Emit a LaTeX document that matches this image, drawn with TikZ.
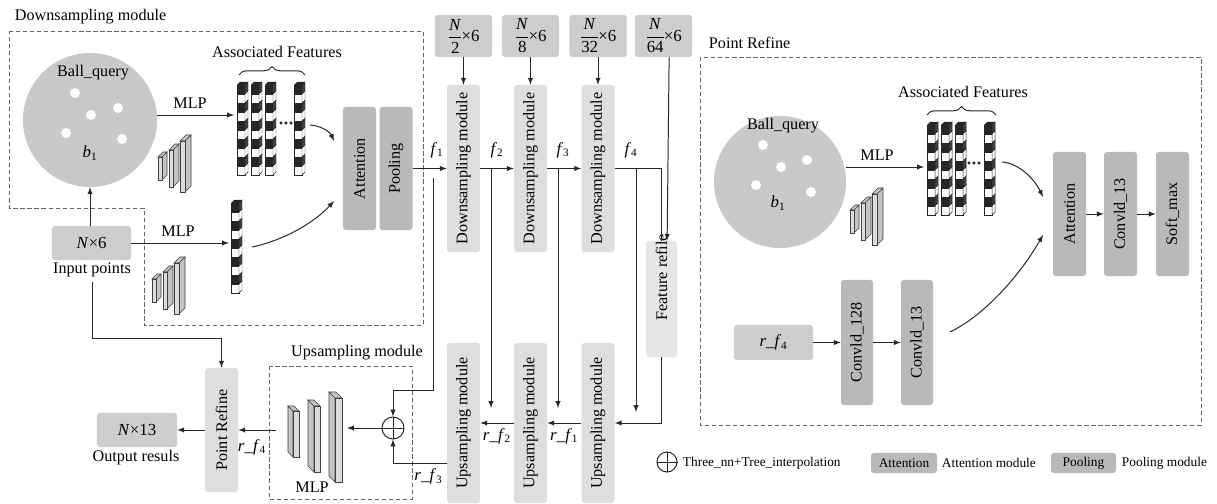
\documentclass[tikz,border=0pt]{standalone}
\usepackage{graphicx}
\usepackage{fontspec}
\setmainfont{Liberation Serif}
\usetikzlibrary{calc,arrows,decorations.pathreplacing}
\tikzset{>=latex}

\definecolor{ballgray}{HTML}{C9C9C9}
\definecolor{boxgray}{HTML}{CDCDCD}
\definecolor{modgray}{HTML}{DEDEDE}
\definecolor{attgray}{HTML}{B9B9B9}
\definecolor{slabgray}{HTML}{C4C4C4}

\tikzset{
  gbox/.style={fill=boxgray, rounded corners=2pt, inner sep=0pt},
  mbox/.style={fill=modgray, rounded corners=2pt, inner sep=0pt, minimum width=0.825cm},
  abox/.style={fill=attgray, rounded corners=2pt, inner sep=0pt, minimum width=0.825cm},
  dbox/.style={draw=black!60, dash pattern=on 3pt off 2pt, line width=0.5pt},
  conn/.style={line width=0.7pt, draw=black!85},
  wdot/.style={circle, fill=white, inner sep=0pt, minimum size=0.25cm},
  osum/.style={circle, draw=black!85, line width=0.7pt, inner sep=0pt, minimum size=0.55cm},
  slab/.style={draw=black!75, line width=0.4pt, fill=slabgray},
  cell/.style={draw=black!85, line width=0.35pt},
}

% italic labels in the text font
\newcommand{\vf}[1]{\textit{f}\textsubscript{#1}}
\newcommand{\rfm}[1]{\textit{r}\_\textit{f}\textsubscript{#1}}
\newcommand{\nfrac}[1]{$\displaystyle\frac{\mbox{\textit{N}}}{\mbox{#1}}$\kern-1pt×6}

% one column of associated features
\newcommand{\featcol}[2]{%
  \fill[black!85] (#1,#2) -- ++(3,-3) -- ++(8,0) -- ++(-3,3) -- cycle;
  \foreach \i in {0,2,4,6,8}{
    \filldraw[cell, fill=black!85] (#1,#2+9*\i) rectangle ++(8,9);
    \filldraw[cell, fill=black!75] (#1+8,#2+9*\i) -- ++(3,-3) -- ++(0,9) -- ++(-3,3) -- cycle;
  }
  \foreach \i in {1,3,5,7,9}{
    \filldraw[cell, fill=white] (#1,#2+9*\i) rectangle ++(8,9);
    \filldraw[cell, fill=white] (#1+8,#2+9*\i) -- ++(3,-3) -- ++(0,9) -- ++(-3,3) -- cycle;
  }
}
% layer slabs
\newcommand{\slabR}[5]{%
  \filldraw[slab] (#1+#4,#2) -- ++(#5,-#5) -- (#1+#4+#5,#3-#5) -- (#1+#4,#3) -- cycle;
  \filldraw[slab] (#1,#2) -- ++(#5,-#5) -- ++(#4,0) -- (#1+#4,#2) -- cycle;
  \filldraw[slab, fill=slabgray!60] (#1,#2) rectangle (#1+#4,#3);
}
\newcommand{\slabL}[5]{%
  \filldraw[slab] (#1,#2) -- ++(-#5,-#5) -- (#1-#5,#3-#5) -- (#1,#3) -- cycle;
  \filldraw[slab] (#1,#2) -- ++(-#5,-#5) -- ++(#4,0) -- (#1+#4,#2) -- cycle;
  \filldraw[slab, fill=slabgray!60] (#1,#2) rectangle (#1+#4,#3);
}
\newcommand{\mlpicon}[2]{%
  \slabR{#1}{#2+22}{#2+45}{4}{5}
  \slabR{#1+11}{#2+15}{#2+52}{4}{6}
  \slabR{#1+22}{#2+6}{#2+57}{5}{6}
}

\begin{document}
\begin{tikzpicture}[x=0.025cm, y=-0.025cm, font=\fontsize{11.5pt}{13pt}\selectfont]
  \useasboundingbox (0,0) rectangle (1217,504);

  % downsampling module
  \draw[dbox] (9,31) -- (423,31) -- (423,325) -- (144,325) -- (144,208) -- (9,208) -- cycle;
  \node[anchor=west] (titleD) at (10,17) {Downsampling module};
  \node[circle, fill=ballgray, inner sep=0pt, minimum size=3.35cm] (ballA) at (90,120) {};
  \node (bqA) at (93,73) {Ball\_query};
  \node (bA) at (90,153) {\large\textit{b}\textsubscript{1}};
  \foreach \x/\y [count=\k] in {75/93, 91/115, 118/108, 66/133, 122/139}
    \node[wdot] (dA\k) at (\x,\y) {};
  \node[gbox, minimum width=1.975cm, minimum height=0.85cm] (inA) at (91.5,243) {\large\textit{N}×6};
  \node (inlab) at (92,270) {Input points};

  \foreach \x in {237,251,265,294} \featcol{\x}{85}
  \foreach \x in {281,286,291} \fill[black!85] (\x,123) circle (0.9pt);
  \draw[conn, decorate, decoration={brace, amplitude=6pt}] (239,75) -- (305,75);
  \node (afA) at (277,52) {Associated Features};
  \featcol{231}{203}
  \mlpicon{158}{135}
  \mlpicon{152}{257}

  \node[abox, minimum height=3.075cm] (attA) at (359.5,168.5) {\rotatebox{90}{Attention}};
  \node[abox, minimum height=3.075cm] (poolA) at (396,168.5) {\rotatebox{90}{Pooling}};

  \coordinate (colA) at (234,115);
  \coordinate (colA2) at (229,243);
  \draw[conn,->] (inA.north -| ballA) -- (ballA.south);
  \draw[conn,->] (ballA.east |- colA) -- (colA);
  \node (mlpA1) at (190,103) {MLP};
  \draw[conn,->] (inA) -- (colA2);
  \node (mlpA2) at (178,231) {MLP};
  \draw[conn,->] (310,125) .. controls (322,126) and (330,132) .. (334,141);
  \draw[conn,->] (252,247) .. controls (285,240) and (315,222) .. (334,201);

  % backbone
  \foreach \n/\d/\x in {n2/2/463.5, n8/8/530.5, n32/32/598, n64/64/663.5}
    \node[gbox, minimum width=1.425cm, minimum height=1.05cm] (\n) at (\x,36) {\large\nfrac{\d}};
  \foreach \k/\x in {1/463.5, 2/530.5, 3/598}{
    \node[mbox, minimum height=4.175cm] (down\k) at (\x,168.5) {\rotatebox{90}{Downsampling module}};
    \node[mbox, minimum height=4cm] (up\k) at (\x,423) {\rotatebox{90}{Upsampling module}};
  }
  \node[mbox, fill=modgray!75, minimum width=0.775cm, minimum height=2.9cm] (feat) at (661.5,299)
    {\rotatebox{90}{\makebox[0pt]{\hspace*{31pt}Feature refile}}};

  \foreach \a/\b in {n2/down1, n8/down2, n32/down3, poolA/down1, down1/down2, down2/down3}
    \draw[conn,->] (\a) -- (\b);
  \foreach \k/\x in {1/437, 2/497, 3/563, 4/631}
    \node (lf\k) at (\x,150) {\large\vf{\k}};
  \draw[conn] (down3) -| (feat.north);
  \draw[conn,->] ([xshift=4pt]n64.south) -- ([xshift=4pt]feat.north);

  \coordinate (br1) at (433,178);
  \coordinate (br2) at (491,168);
  \coordinate (br3) at (558,168);
  \coordinate (br4) at (636,168);
  \draw[conn,->] (br2) -- ++(0,240);
  \draw[conn,->] (br3) -- ++(0,240);
  \draw[conn,->] (br4) -- ++(0,244);

  \draw[conn,->] (feat) |- (up3);
  \draw[conn,->] (up3) -- (up2) node[midway, below] {\large\rfm{1}};
  \draw[conn,->] (up2) -- (up1) node[midway, below] {\large\rfm{2}};

  % upsampling module
  \draw[dbox] (269,366) rectangle (412,499);
  \node (titleU) at (357,353) {Upsampling module};
  \node[osum] (sum) at (393,428) {};
  \draw[conn] (sum.north) -- (sum.south) (sum.west) -- (sum.east);
  \draw[conn,->] (br1) -- ++(0,212) -| (sum.north);
  \draw[conn,->] ([yshift=-29pt]up1.west) -| (sum.south) node[pos=0.17, below] {\large\rfm{3}};
  \slabL{293}{411}{457}{6}{5}
  \slabL{314}{406}{472}{6}{6}
  \slabL{335}{398}{482}{7}{6}
  \node (mlpU) at (312,487) {MLP};
  \coordinate (mlpUin) at (347,428);
  \coordinate (mlpUout) at (276,430);
  \draw[conn,->] (sum) -- (mlpUin);

  \node[mbox, minimum height=3.1cm] (prA) at (221.5,430) {\rotatebox{90}{Point Refine}};
  \node[gbox, minimum width=2cm, minimum height=0.85cm] (outA) at (137,430) {\large\textit{N}×13};
  \node (outlab) at (136,458) {Output resuls};
  \draw[conn,->] (mlpUout) -- (prA);
  \node (lrf4) at (252,447) {\large\rfm{4}};
  \draw[conn,->] (prA) -- (outA);
  \draw[conn,->] (inlab.south) -- ++(0,56) -| (prA.north);

  % point refine
  \draw[dbox] (700,57) rectangle (1201,425);
  \node[anchor=west] (titleP) at (704,43) {Point Refine};
  \node[circle, fill=ballgray, inner sep=0pt, minimum size=3.3cm] (ballB) at (780,182) {};
  \node (bqB) at (783,126) {Ball\_query};
  \node (bB) at (778,203) {\large\textit{b}\textsubscript{1}};
  \foreach \x/\y [count=\k] in {763/145, 781/167, 807/160, 756/185, 811/192}
    \node[wdot] (dB\k) at (\x,\y) {};
  \foreach \x in {927,941,955,984} \featcol{\x}{125}
  \foreach \x in {969,974,979} \fill[black!85] (\x,163) circle (0.9pt);
  \draw[conn, decorate, decoration={brace, amplitude=6pt}] (927,115) -- (996,115);
  \node (afB) at (963,92) {Associated Features};
  \mlpicon{850}{188}
  \coordinate (colB) at (924,167);
  \draw[conn,->] (ballB.east |- colB) -- (colB);
  \node (mlpB) at (877,155) {MLP};

  \node[abox, minimum height=3.1cm] (attB) at (1069.5,214) {\rotatebox{90}{Attention}};
  \node[abox, minimum height=3.1cm] (convB) at (1120.5,214) {\rotatebox{90}{Convld\_13}};
  \node[abox, minimum height=3.1cm] (softB) at (1172.5,214) {\rotatebox{90}{Soft\_max}};
  \draw[conn,->] (attB) -- (convB);
  \draw[conn,->] (convB) -- (softB);
  \draw[conn,->] (1002,162) .. controls (1018,163) and (1034,178) .. (1043,197);

  \node[gbox, minimum width=1.975cm, minimum height=0.875cm] (rfB) at (773.5,342.5) {\large\rfm{4}};
  \node[abox, minimum width=0.8cm, minimum height=3.125cm] (c128) at (857,342.5) {\rotatebox{90}{Convld\_128}};
  \node[abox, minimum width=0.8cm, minimum height=3.125cm] (c13) at (917,342.5) {\rotatebox{90}{Convld\_13}};
  \draw[conn,->] (rfB) -- (c128);
  \draw[conn,->] (c128) -- (c13);
  \draw[conn,->] (950,332) .. controls (985,315) and (1020,275) .. (1043,235);

  % legend
  \node[osum, minimum size=0.5cm] (lgsum) at (667,462) {};
  \draw[conn] (lgsum.north) -- (lgsum.south) (lgsum.west) -- (lgsum.east);
  \node[anchor=west, font=\fontsize{9.5pt}{11pt}\selectfont] (lgsumt) at (678,463) {Three\_nn+Tree\_interpolation};
  \node[abox, minimum width=1.65cm, minimum height=0.5cm, font=\fontsize{9.5pt}{11pt}\selectfont] (lgatt) at (904,463) {Attention};
  \node[anchor=west, font=\fontsize{9.5pt}{11pt}\selectfont] (lgattt) at (937,463) {Attention module};
  \node[abox, minimum width=1.625cm, minimum height=0.5cm, font=\fontsize{9.5pt}{11pt}\selectfont] (lgpool) at (1083.5,463) {Pooling};
  \node[anchor=west, font=\fontsize{9.5pt}{11pt}\selectfont] (lgpoolt) at (1117,463) {Pooling module};
\end{tikzpicture}
\end{document}
